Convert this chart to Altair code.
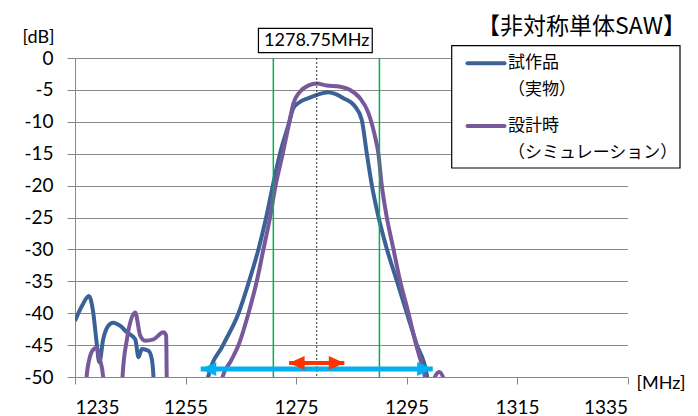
import altair as alt
import pandas as pd

# ---------------- data ----------------
series_names = ["試作品\n（実物）", "設計時\n（シミュレーション）"]
series_colors = ["#3a6296", "#77599b"]

# 試作品（実物）
proto_mhz = [1235.0, 1236.3, 1237.5, 1238.3, 1238.9, 1239.4, 1240.1, 1241.0, 1241.9,
             1243.2, 1244.4, 1245.9, 1246.5, 1247.1, 1248.3, 1248.9, 1249.2, 1249.4,
             1258.2, 1259.1, 1261.8, 1264.6, 1266.5, 1268.2, 1269.6, 1270.8, 1272.1,
             1273.8, 1274.5, 1275.7, 1277.5, 1278.75, 1280.8, 1282.0, 1283.6, 1285.7,
             1286.9, 1287.8, 1288.7, 1289.9, 1291.4, 1293.2, 1295.0, 1296.8, 1298.7, 1299.3]
proto_db = [-41.2, -38.8, -37.3, -39.9, -44.5, -47.7, -44.1, -42.0, -41.5,
            -42.0, -43.0, -44.1, -46.9, -45.6, -45.9, -47.2, -50.0, -57.0,
            -57.0, -50.0, -45.0, -40.0, -35.0, -30.0, -25.0, -20.0, -15.0,
            -10.0, -7.9, -6.9, -6.2, -5.8, -5.35, -5.6, -6.3, -7.6,
            -9.7, -14.9, -19.8, -24.8, -29.8, -34.8, -39.8, -44.8, -49.8, -56.0]

# 設計時（シミュレーション）
sim_mhz = [1236.9, 1237.1, 1237.6, 1238.2, 1238.9, 1239.5, 1240.1, 1240.3,
           1243.4, 1243.6, 1244.4, 1245.9, 1246.8, 1247.7, 1249.2, 1251.0, 1251.5, 1251.6, 1251.8,
           1261.0, 1261.7, 1263.2, 1264.6, 1266.4, 1267.9, 1269.1, 1270.3, 1271.3, 1272.6,
           1273.8, 1274.5, 1275.7, 1277.3, 1278.75, 1280.5, 1283.0, 1284.8, 1286.6, 1288.1,
           1289.3, 1289.9, 1290.5, 1291.4, 1292.6, 1293.8, 1295.3, 1296.7, 1298.3, 1299.1,
           1299.9, 1300.9, 1301.8, 1302.3]
sim_db = [-57.0, -50.0, -47.2, -45.8, -45.4, -47.2, -50.0, -57.0,
          -57.0, -50.0, -44.1, -39.9, -43.5, -44.3, -44.1, -43.0, -43.5, -50.0, -57.0,
          -57.0, -50.0, -47.5, -45.0, -40.0, -35.0, -30.0, -25.0, -20.0, -15.0,
          -10.0, -7.2, -5.3, -4.3, -4.0, -4.3, -4.5, -5.0, -6.3, -8.6,
          -12.3, -14.9, -19.8, -24.8, -29.8, -34.8, -39.8, -44.8, -49.8, -53.0,
          -50.5, -49.2, -50.5, -57.0]

x_ticks = [1235, 1255, 1275, 1295, 1315, 1335]
y_ticks = [0, -5, -10, -15, -20, -25, -30, -35, -40, -45, -50]

band_edges = [1270.9, 1290.1]          # green lines
center_mhz = [1278.75]                 # dotted centre line
center_label = "1278.75MHz"
box_lo, box_hi = 1268.2, 1288.8        # label box span (MHz)

arrow_start = [1257.75, 1273.75]
arrow_end = [1299.75, 1283.75]
arrow_db = [-48.75, -47.8]
arrow_colors = ["#00b0f0", "#ff3300"]
arrow_width = [5, 4]

title_text = "【非対称単体SAW】"

JP = "Noto Sans CJK JP"
NUM = "Lato"
GRID = "#878787"

# ---------------- tables ----------------
curves = pd.DataFrame({
    "mhz": proto_mhz + sim_mhz,
    "db": proto_db + sim_db,
    "series": [series_names[0]] * len(proto_mhz) + [series_names[1]] * len(sim_mhz),
})
arrows = pd.DataFrame({"start": arrow_start, "end": arrow_end, "db": arrow_db,
                       "color": arrow_colors, "w": arrow_width})

xs = alt.Scale(domain=[1235, 1335], nice=False, zero=False)
ys = alt.Scale(domain=[-50, 0], nice=False, zero=False)

x_axis = alt.Axis(values=x_ticks, format="d", grid=False, labelFont=NUM, labelFontSize=19,
                  labelColor="black", tickColor=GRID, tickSize=7, domainColor=GRID,
                  labelPadding=14, title="[MHz]", titleFont=NUM, titleFontSize=18,
                  titleFontWeight="normal", titleX=561, titleY=6, titleAlign="left",
                  titleBaseline="middle", titleColor="black")
y_axis = alt.Axis(values=y_ticks, labelExpr="'' + datum.value", grid=True, gridColor=GRID,
                  gridWidth=1, labelFont=NUM, labelFontSize=19, labelColor="black",
                  tickColor=GRID, tickSize=8, domainColor=GRID, labelPadding=14,
                  title="[dB]", titleFont=NUM, titleFontSize=18, titleFontWeight="normal",
                  titleAngle=0, titleX=-37, titleY=-21, titleAlign="center",
                  titleBaseline="middle", titleColor="black")


def X(field):
    return alt.X(field, type="quantitative", scale=xs, axis=x_axis)


def Y(field):
    return alt.Y(field, type="quantitative", scale=ys, axis=y_axis)


lines = alt.Chart(curves).mark_line(strokeWidth=4, interpolate="monotone", clip=True).encode(
    x=X("mhz"),
    y=Y("db"),
    color=alt.Color("series:N", scale=alt.Scale(domain=series_names, range=series_colors),
                    legend=None),
    detail="series:N",
)

green = alt.Chart(pd.DataFrame({"mhz": band_edges})).mark_rule(
    color="#00b050", strokeWidth=1.5).encode(x=X("mhz"))
dotted = alt.Chart(pd.DataFrame({"mhz": center_mhz})).mark_rule(
    color="#333333", strokeWidth=1, strokeDash=[2, 2]).encode(x=X("mhz"))

arrow_body = alt.Chart(arrows).mark_rule().encode(
    x=X("start"), x2="end:Q", y=Y("db"),
    color=alt.Color("color:N", scale=None),
    strokeWidth=alt.StrokeWidth("w:Q", scale=None),
)
left_head = alt.Chart(arrows).mark_point(shape="M0,0 L2.2,-1 L2.2,1 Z", size=200, filled=True,
                                         opacity=1, strokeWidth=0).encode(
    x=X("start"), y=Y("db"), color=alt.Color("color:N", scale=None))
right_head = alt.Chart(arrows).mark_point(shape="M0,0 L-2.2,-1 L-2.2,1 Z", size=200, filled=True,
                                          opacity=1, strokeWidth=0).encode(
    x=X("end"), y=Y("db"), color=alt.Color("color:N", scale=None))

label_df = pd.DataFrame({"mhz": center_mhz, "lo": [box_lo], "hi": [box_hi], "text": [center_label]})
label_box = alt.Chart(label_df).mark_rect(fill="white", stroke="black", strokeWidth=1.2).encode(
    x=X("lo"), x2="hi:Q", y=alt.value(-29.7), y2=alt.value(-5.3))
label_text = alt.Chart(label_df).mark_text(font=NUM, fontSize=18, color="black",
                                           baseline="middle", align="center").encode(
    x=X("mhz"), y=alt.value(-17.5), text="text:N")

title = alt.Chart(pd.DataFrame({"t": [title_text]})).mark_text(
    font=JP, fontSize=23, color="black", align="right", baseline="middle").encode(
    x=alt.value(611), y=alt.value(-31.5), text="t:N")

# ---------------- legend (drawn box) ----------------
leg_df = pd.DataFrame({"series": series_names, "color": series_colors})
legend_layers = [
    alt.Chart(leg_df.head(1)).mark_rect(fill="white", stroke="black", strokeWidth=1.2).encode(
        x=alt.value(376.7), x2=alt.value(605), y=alt.value(-12.3), y2=alt.value(110))
]
for i, ypos in enumerate([5.3, 68]):
    row = leg_df.iloc[[i]]
    legend_layers.append(alt.Chart(row).mark_rule(strokeWidth=4, strokeCap="round").encode(
        x=alt.value(392.5), x2=alt.value(429.5), y=alt.value(ypos),
        color=alt.Color("color:N", scale=None)))
    legend_layers.append(alt.Chart(row).mark_text(
        font=JP, fontSize=17, color="black", align="left", baseline="middle",
        lineBreak="\n", lineHeight=27).encode(
        x=alt.value(433), y=alt.value(ypos), text="series:N"))

chart = alt.layer(lines, green, dotted, arrow_body, left_head, right_head,
                  label_box, label_text, title, *legend_layers).properties(
    width=552.5, height=319,
    autosize=alt.AutoSizeParams(type="none"),
    padding={"left": 67, "top": 50, "right": 62, "bottom": 39},
).configure_view(stroke=None)

chart.save("out.html", embed_options={"renderer": "svg", "actions": False})
